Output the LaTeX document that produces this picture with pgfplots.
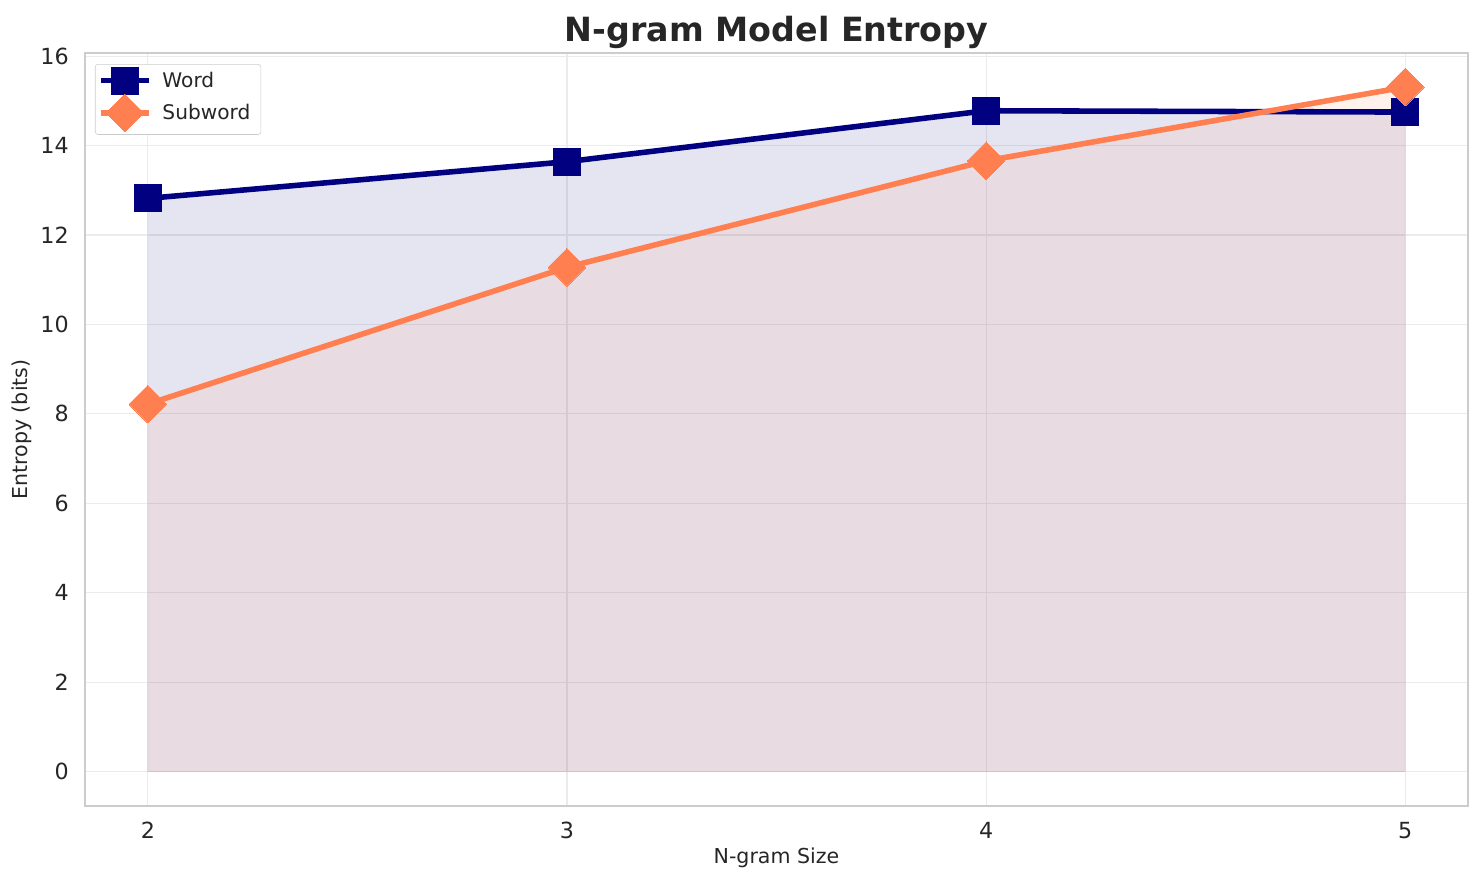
\documentclass[border=0pt]{standalone}
\usepackage{pgfplots}
\pgfplotsset{compat=1.18}
\usepackage{fontspec}
\setmainfont{DejaVu Sans}
\definecolor{wordc}{HTML}{000080}
\definecolor{subc}{HTML}{FF7F50}
\definecolor{txt}{HTML}{262626}
\definecolor{gridc}{HTML}{EBEBEB}
\definecolor{framec}{HTML}{CCCCCC}
\begin{document}
\begin{tikzpicture}
\begin{axis}[
    name=ax,
    scale only axis,
    width=995.8pt, height=542pt,
    xmin=1.85, xmax=5.15,
    ymin=-0.765, ymax=16.07,
    xtick={2,3,4,5},
    ytick={0,2,...,16},
    /pgf/number format/assume math mode=true,
    tick label style={font=\fontsize{16}{18}\selectfont, text=txt, inner sep=0pt},
    xticklabel shift=11.5pt,
    yticklabel shift=11.5pt,
    tick style={draw=none},
    grid=major,
    major grid style={draw=gridc, line width=0.8pt},
    axis line style={draw=framec, line width=1pt},
    title={N-gram Model Entropy},
    title style={font=\fontsize{24}{28}\bfseries\selectfont, text=txt,
        at={(0.5,1)}, anchor=base, yshift=2.5pt},
    xlabel={N-gram Size},
    ylabel={Entropy (bits)},
    label style={font=\fontsize{14.8}{17}\selectfont, text=txt},
    xlabel style={at={(0.5,0)}, anchor=center, yshift=-37.4pt},
    ylabel style={at={(0,0.5)}, anchor=center, yshift=45.4pt},
    legend style={at={(0,1)}, anchor=north west, xshift=7.2pt, yshift=-7.9pt,
        font=\fontsize{14.5}{17}\selectfont, text=txt, draw=framec, rounded corners=2pt,
        row sep=0pt, column sep=5.8pt, inner sep=2pt},
    legend image code/.code={
        \draw[mark repeat=2, mark phase=2] plot coordinates {(0pt,0pt) (17.3pt,0pt) (34.6pt,0pt)};
    },
    legend cell align=left,
]
\addplot[draw=wordc, draw opacity=0.1, fill=wordc, fill opacity=0.1, forget plot]
    coordinates {(2,12.82) (3,13.64) (4,14.78) (5,14.75)} \closedcycle;
\addplot[draw=subc, draw opacity=0.1, fill=subc, fill opacity=0.1, forget plot]
    coordinates {(2,8.22) (3,11.28) (4,13.66) (5,15.31)} \closedcycle;
\addplot[color=wordc, line width=4pt, mark=square*, mark size=9.7pt,
    mark options={line width=0pt}]
    coordinates {(2,12.82) (3,13.64) (4,14.78) (5,14.75)};
\addlegendentry{Word}
\addplot[color=subc, line width=4pt, mark=square*, mark size=9.6pt,
    mark options={rotate=45, line width=0pt}]
    coordinates {(2,8.22) (3,11.28) (4,13.66) (5,15.31)};
\addlegendentry{Subword\hspace*{3.6pt}}
\end{axis}
\pgfresetboundingbox
\path ([shift={(-61.2pt,-56.9pt)}]ax.south west) rectangle ([shift={(11.5pt,38.2pt)}]ax.north east);
\end{tikzpicture}
\end{document}
